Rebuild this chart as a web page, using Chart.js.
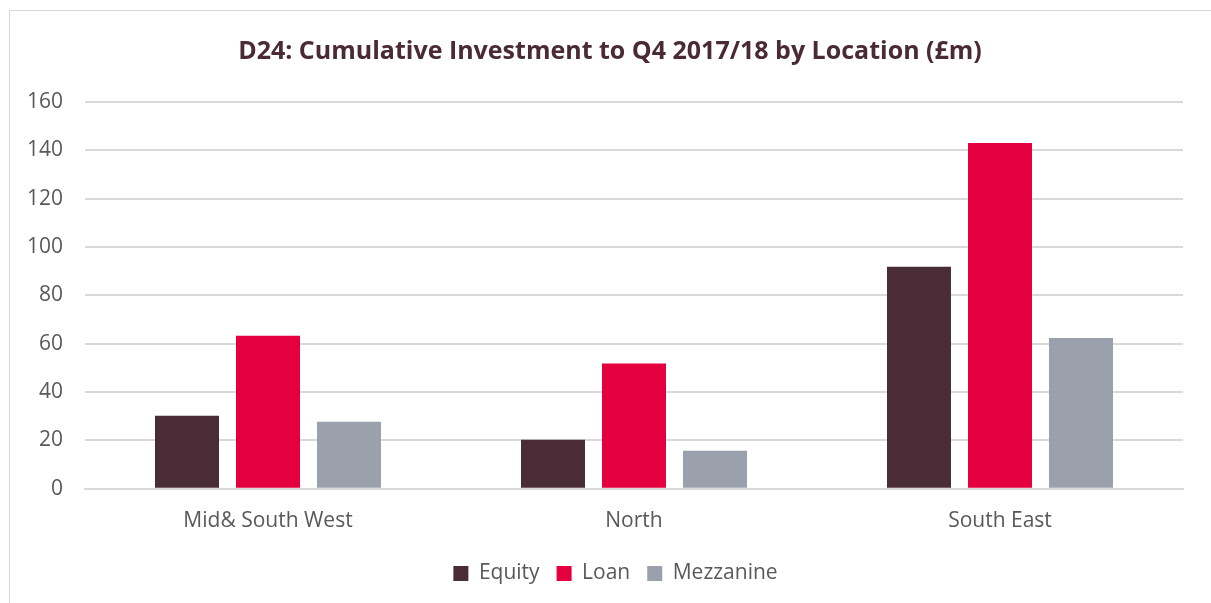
<!DOCTYPE html>
<html>
<head>
<meta charset="utf-8">
<script src="https://cdn.jsdelivr.net/npm/chart.js@4"></script>
<style>
  body { margin: 0; background: #fff; overflow: hidden; }
  #frame { position: absolute; left: 9px; top: 10px; width: 1240px; height: 640px; border: 1px solid #d9d9d9; }
  #chart { position: absolute; left: 0; top: 0; }
</style>
</head>
<body>
<div id="frame"></div>
<canvas id="chart" width="1211" height="603"></canvas>
<script>
const locations = ['Mid& South West', 'North', 'South East'];
const equity = [30.2, 20.3, 91.8];
const loan = [63.3, 51.8, 143];
const mezzanine = [27.7, 15.7, 62.4];

const font = "'Open Sans', sans-serif";
const grey = '#595959';

// the original centres title and legend on the whole frame, not the plot
const centreBlocks = {
    id: 'centreBlocks',
    afterLayout(chart) {
        if (chart.titleBlock) chart.titleBlock.left += 37;
        if (chart.legend) chart.legend.left += 48;
    }
};

const ctx = document.getElementById('chart').getContext('2d');
new Chart(ctx, {
    type: 'bar',
    data: {
        labels: locations,
        datasets: [
            { label: 'Equity', data: equity, backgroundColor: '#4a2c37' },
            { label: 'Loan', data: loan, backgroundColor: '#e4003e' },
            { label: 'Mezzanine', data: mezzanine, backgroundColor: '#9aa0ac' }
        ]
    },
    options: {
        responsive: false,
        animation: false,
        layout: { padding: { left: 0, right: 28, top: 0, bottom: 9 } },
        datasets: {
            bar: { categoryPercentage: 0.664, barPercentage: 0.79 }
        },
        plugins: {
            title: {
                display: true,
                text: 'D24: Cumulative Investment to Q4 2017/18 by Location (£m)',
                color: '#4a2a35',
                font: { family: font, size: 25, weight: 'bold' },
                padding: { top: 37, bottom: 35 }
            },
            legend: {
                position: 'bottom',
                labels: {
                    color: grey,
                    font: { family: font, size: 21 },
                    boxWidth: 15,
                    boxHeight: 15,
                    padding: 17
                }
            },
            tooltip: { enabled: false }
        },
        scales: {
            x: {
                grid: { display: false },
                border: { color: '#d9d9d9', width: 2 },
                ticks: { color: grey, font: { family: font, size: 21 }, padding: 12 }
            },
            y: {
                min: 0,
                max: 160,
                afterFit: s => { s.width = 85; },
                grid: { color: '#d9d9d9', lineWidth: 2, drawTicks: false },
                border: { display: false },
                ticks: { stepSize: 20, color: grey, font: { family: font, size: 21 }, padding: 22 }
            }
        }
    },
    plugins: [centreBlocks]
});
</script>
</body>
</html>
